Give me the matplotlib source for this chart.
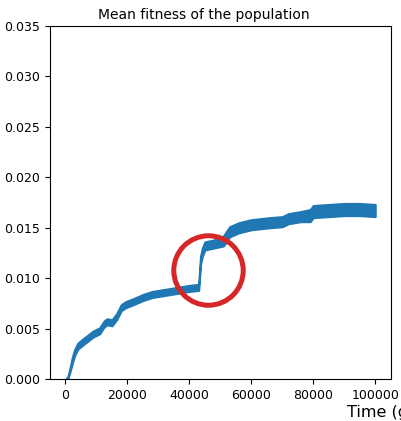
"""Mean fitness of the population over time, with the jump circled."""

import matplotlib.pyplot as plt

# time points (generations) and the lower / upper edge of the noisy band
time = [0, 800, 1500, 2200, 3000, 4000, 6000, 9000, 11000, 12500, 13500,
        15000, 16500, 18000, 19500, 22000, 25000, 28000, 32000, 36000,
        40000, 43000, 43600, 44200, 45000, 48000, 51000, 53000, 56000,
        60000, 66000, 70000, 72000, 76000, 79000, 80000, 85000, 90000,
        95000, 100000]
fit_low = [0.0, 0.0001, 0.0008, 0.0016, 0.0024, 0.0030, 0.0035, 0.0042,
           0.0045, 0.0052, 0.0054, 0.0053, 0.0059, 0.0068, 0.0071, 0.0074,
           0.0078, 0.0081, 0.0083, 0.0085, 0.0087, 0.0088, 0.0114, 0.0122,
           0.0128, 0.0130, 0.0132, 0.0141, 0.0145, 0.0148, 0.0150, 0.0151,
           0.0154, 0.0156, 0.0156, 0.0160, 0.0161, 0.0162, 0.0162, 0.0161]
fit_high = [0.0, 0.0003, 0.0012, 0.0022, 0.0030, 0.0036, 0.0041, 0.0048,
            0.0051, 0.0058, 0.0060, 0.0059, 0.0065, 0.0074, 0.0077, 0.0080,
            0.0084, 0.0087, 0.0089, 0.0091, 0.0093, 0.0094, 0.0122, 0.0130,
            0.0136, 0.0138, 0.0142, 0.0151, 0.0155, 0.0158, 0.0160, 0.0161,
            0.0164, 0.0166, 0.0168, 0.0172, 0.0173, 0.0174, 0.0174, 0.0173]

# where the jump happens
jump_t = 45900
jump_fit = 0.01085


def main():
    fig = plt.figure(figsize=(4.02, 4.21), dpi=100)
    ax = fig.add_axes([0.1244, 0.0988, 0.8475, 0.8406])

    ax.fill_between(time, fit_low, fit_high, color='C0', lw=1.5,
                    edgecolor='C0')
    ax.plot(jump_t, jump_fit, 'o', ms=50, mfc='none', mec='#d62728',
            mew=3.6)

    ax.set_xlim(-5000, 105000)
    ax.set_ylim(0, 0.035)
    ax.set_xticks([0, 20000, 40000, 60000, 80000, 100000])
    ax.set_yticks([0, 0.005, 0.01, 0.015, 0.02, 0.025, 0.03, 0.035])
    ax.set_yticklabels(['0.000', '0.005', '0.010', '0.015', '0.020',
                        '0.025', '0.030', '0.035'])
    ax.tick_params(labelsize=9)

    # title sits a little left of the axes centre in the original
    ax.set_title('Mean fitness of the population', fontsize=10, x=0.452,
                 pad=5)
    ax.set_xlabel('Time (generations)', fontsize=11.5, ha='left')
    ax.xaxis.set_label_coords(0.872, -0.073)

    fig.savefig('out.png', dpi=100)


if __name__ == '__main__':
    main()
